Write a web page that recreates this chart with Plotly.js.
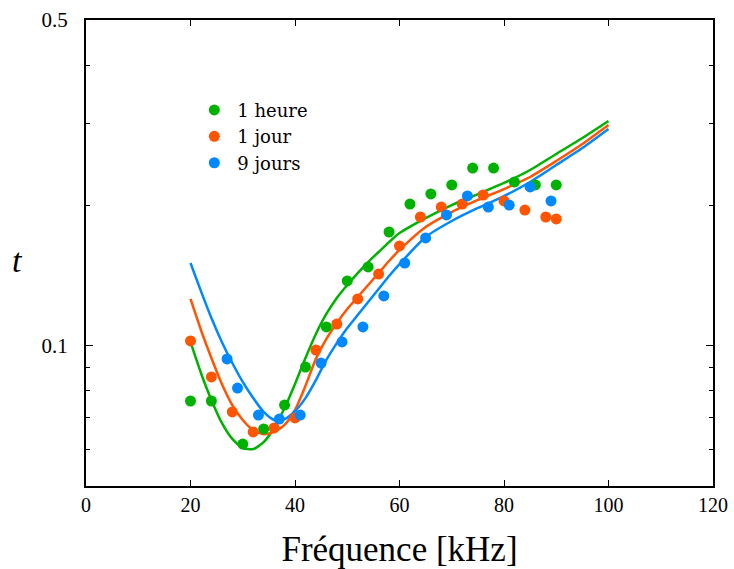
<!DOCTYPE html>
<html>
<head>
<meta charset="utf-8">
<script src="https://cdn.plot.ly/plotly-3.0.1.min.js"></script>
<style>html,body{margin:0;padding:0;background:#fff;}#chart{width:734px;height:569px;}</style>
</head>
<body>
<div id="chart"></div>
<script>
// Measured points
const heureX = [20, 24, 30, 34, 38, 42, 46, 50, 54, 58, 62, 66, 70, 74, 78, 82, 86, 90];
const heureY = [0.0761, 0.0761, 0.0615, 0.0663, 0.0746, 0.0900, 0.1097, 0.1377, 0.1476, 0.1754, 0.2014, 0.2117, 0.2213, 0.2406, 0.2406, 0.2246, 0.2213, 0.2213];

const jourX = [20, 24, 28, 32, 36, 40, 44, 48, 52, 56, 60, 64, 68, 72, 76, 80, 84, 88, 90];
const jourY = [0.1024, 0.0857, 0.0721, 0.0653, 0.0666, 0.0700, 0.0979, 0.1113, 0.1260, 0.1425, 0.1637, 0.1889, 0.1984, 0.2014, 0.2106, 0.2045, 0.1955, 0.1889, 0.1871];

const joursX = [27, 29, 33, 37, 41, 45, 49, 53, 57, 61, 65, 69, 73, 77, 81, 85, 89];
const joursY = [0.0937, 0.0811, 0.0710, 0.0696, 0.0710, 0.0918, 0.1019, 0.1097, 0.1279, 0.1505, 0.1703, 0.1908, 0.2096, 0.1984, 0.2004, 0.2191, 0.2045];

// Fitted curves
const fitX = [20, 22, 24, 26, 28, 30, 32, 34, 36, 38, 40, 42, 44, 46, 48, 50, 52, 54, 56, 58, 60, 65, 70, 75, 80, 85, 90, 95, 100];
const fitHeure = [0.1019, 0.0874, 0.0765, 0.0683, 0.0631, 0.0603, 0.0600, 0.0621, 0.0666, 0.0735, 0.0828, 0.0941, 0.1060, 0.1170, 0.1266, 0.1350, 0.1432, 0.1512, 0.1589, 0.1669, 0.1745, 0.1879, 0.2004, 0.2116, 0.2235, 0.2383, 0.2579, 0.2791, 0.3035];
const fitJour  = [0.1260, 0.1081, 0.0941, 0.0828, 0.0746, 0.0693, 0.0659, 0.0646, 0.0653, 0.0676, 0.0728, 0.0820, 0.0937, 0.1034, 0.1119, 0.1199, 0.1272, 0.1350, 0.1432, 0.1520, 0.1605, 0.1798, 0.1936, 0.2055, 0.2169, 0.2302, 0.2491, 0.2709, 0.2976];
const fitJours = [0.1505, 0.1310, 0.1147, 0.1019, 0.0918, 0.0836, 0.0772, 0.0721, 0.0693, 0.0696, 0.0724, 0.0772, 0.0844, 0.0932, 0.1013, 0.1091, 0.1164, 0.1241, 0.1323, 0.1411, 0.1497, 0.1711, 0.1852, 0.1975, 0.2095, 0.2246, 0.2442, 0.2656, 0.2918];

const seriesNames = ['1 heure', '1 jour', '9 jours'];
const colors = ['rgb(0,178,0)', 'rgb(255,85,0)', 'rgb(0,136,255)'];

const xTickVals = [0, 20, 40, 60, 80, 100, 120];
const yTickVals = [0.1, 0.5];
const yTickText = ['0.1', '0.5'];
const yMinorVals = [0.06, 0.07, 0.08, 0.09, 0.2, 0.3, 0.4];

const FONT = "'Liberation Serif', 'Times New Roman', serif";
const LEGFONT = "'DejaVu Serif', 'Liberation Serif', serif";

function lineTrace(y, i) {
  return {x: fitX, y: y, mode: 'lines', line: {color: colors[i], width: 2.5, shape: 'spline', smoothing: 0.6}, showlegend: false, hoverinfo: 'skip'};
}
function ptTrace(x, y, i) {
  return {x: x, y: y, mode: 'markers', name: seriesNames[i], marker: {color: colors[i], size: 11}};
}

const data = [
  lineTrace(fitHeure, 0), lineTrace(fitJour, 1), lineTrace(fitJours, 2),
  ptTrace(heureX, heureY, 0), ptTrace(jourX, jourY, 1), ptTrace(joursX, joursY, 2)
];

const layout = {
  width: 734, height: 569,
  margin: {l: 86, r: 21, t: 20, b: 83},
  paper_bgcolor: '#fff', plot_bgcolor: '#fff',
  font: {family: FONT, size: 20, color: '#000'},
  showlegend: true,
  legend: {x: 0.168, y: 0.846, xanchor: 'left', yanchor: 'top', bgcolor: 'rgba(0,0,0,0)', font: {size: 18, family: LEGFONT}, itemwidth: 36, tracegroupgap: 0},
  xaxis: {
    range: [0, 120], tickmode: 'array', tickvals: xTickVals,
    ticks: 'inside', ticklen: 6, tickwidth: 1, tickcolor: '#000',
    tickfont: {size: 20},
    showline: true, linecolor: '#000', linewidth: 2, mirror: 'ticks',
    showgrid: false, zeroline: false,
    title: {text: 'Fréquence [kHz]', font: {size: 35}, standoff: 25}
  },
  yaxis: {
    type: 'log', range: [Math.log10(0.05), Math.log10(0.5)],
    tickmode: 'array', tickvals: yTickVals, ticktext: yTickText,
    ticks: 'inside', ticklen: 7, tickwidth: 1, tickcolor: '#000',
    tickfont: {size: 21}, ticklabelstandoff: 12,
    minor: {tickmode: 'array', tickvals: yMinorVals, ticks: 'inside', ticklen: 4, tickcolor: '#000', showgrid: false},
    showline: true, linecolor: '#000', linewidth: 2, mirror: 'ticks',
    showgrid: false, zeroline: false
  },
  annotations: [{
    text: '<i>t</i>', xref: 'paper', yref: 'paper', x: (17 - 86) / 627, y: (486 - 260) / 466,
    xanchor: 'center', yanchor: 'middle', showarrow: false, font: {size: 34, family: FONT}
  }]
};

Plotly.newPlot('chart', data, layout, {staticPlot: true, displayModeBar: false});
</script>
</body>
</html>
